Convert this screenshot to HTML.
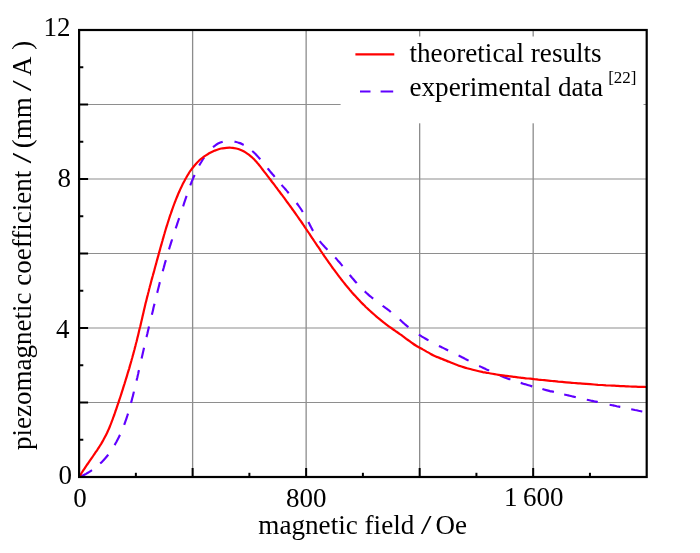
<!DOCTYPE html>
<html><head><meta charset="utf-8"><title>piezomagnetic coefficient vs magnetic field</title>
<style>html,body{margin:0;padding:0;background:#fff;overflow:hidden}svg{display:block}text{font-family:"Liberation Serif","Times New Roman",serif;fill:#000}</style></head><body>
<svg width="700" height="553" viewBox="0 0 700 553">
<rect x="0" y="0" width="700" height="553" fill="#fff"/>
<g stroke="#8c8c8c" stroke-width="1.3" fill="none">
<line x1="192.62" y1="30.00" x2="192.62" y2="477.00"/>
<line x1="306.14" y1="30.00" x2="306.14" y2="477.00"/>
<line x1="419.66" y1="30.00" x2="419.66" y2="477.00"/>
<line x1="533.18" y1="30.00" x2="533.18" y2="477.00"/>
</g>
<g stroke="#8e8e8e" stroke-width="1.15" fill="none">
<line x1="79.10" y1="402.50" x2="646.70" y2="402.50"/>
<line x1="79.10" y1="328.00" x2="646.70" y2="328.00"/>
<line x1="79.10" y1="253.50" x2="646.70" y2="253.50"/>
<line x1="79.10" y1="179.00" x2="646.70" y2="179.00"/>
<line x1="79.10" y1="104.50" x2="646.70" y2="104.50"/>
</g>
<rect x="340.6" y="36.5" width="302.9" height="86.8" fill="#fff"/>
<path d="M79.6 476.9C80.2 476.7 81.8 476.0 82.8 475.5C83.9 475.0 84.9 474.4 86.0 473.9C87.0 473.3 88.0 472.7 89.0 472.1C90.0 471.5 91.5 470.5 92.0 470.2M100.2 463.6C100.7 463.1 102.1 461.7 103.0 460.8C104.0 459.8 104.8 458.8 105.7 457.8C106.6 456.8 107.8 455.2 108.2 454.7M114.6 445.1C114.9 444.6 115.9 442.9 116.5 441.8C117.1 440.6 117.7 439.5 118.3 438.3C118.9 437.2 119.7 435.4 120.0 434.9M124.2 424.9C124.4 424.3 125.1 422.4 125.5 421.2C126.0 419.9 126.4 418.7 126.8 417.4C127.2 416.2 127.8 414.3 128.0 413.7M131.0 402.9C131.2 402.3 131.7 400.4 132.0 399.2C132.3 397.9 132.7 396.6 133.0 395.4C133.3 394.1 133.8 392.2 133.9 391.6M136.5 380.7C136.7 380.1 137.1 378.3 137.4 377.2C137.6 376.0 137.9 374.8 138.2 373.7C138.4 372.5 138.8 370.8 139.0 370.2M141.6 358.5C141.7 357.9 142.1 356.1 142.4 354.9C142.7 353.7 142.9 352.6 143.2 351.4C143.5 350.2 143.9 348.4 144.0 347.8M146.5 337.1C146.7 336.5 147.1 334.7 147.4 333.5C147.6 332.4 147.9 331.2 148.2 330.0C148.5 328.8 148.9 327.1 149.0 326.5M151.9 314.7C152.0 314.1 152.5 312.2 152.8 311.0C153.1 309.8 153.3 308.6 153.6 307.3C153.9 306.1 154.4 304.3 154.5 303.7M157.2 292.8C157.4 292.2 157.8 290.4 158.1 289.2C158.4 288.1 158.7 286.9 159.0 285.7C159.3 284.6 159.7 282.8 159.9 282.2M162.8 271.3C162.9 270.7 163.4 268.8 163.8 267.5C164.1 266.3 164.5 265.0 164.8 263.8C165.1 262.5 165.7 260.7 165.9 260.1M169.0 249.3C169.2 248.8 169.7 247.1 170.0 246.0C170.4 244.9 170.7 243.8 171.1 242.7C171.4 241.6 172.0 239.9 172.1 239.4M175.7 228.4C175.9 227.8 176.5 226.1 176.9 224.9C177.2 223.8 177.6 222.7 178.0 221.5C178.4 220.4 179.0 218.6 179.2 218.1M183.1 206.4C183.3 205.8 183.8 204.1 184.2 202.9C184.6 201.7 185.0 200.6 185.4 199.4C185.8 198.2 186.4 196.5 186.6 195.9M190.3 185.4C190.5 184.8 191.2 183.1 191.6 181.9C192.1 180.7 192.6 179.5 193.1 178.4C193.6 177.2 194.3 175.5 194.6 174.9M199.2 165.5C199.6 164.9 200.8 162.8 201.6 161.5C202.4 160.1 203.7 158.2 204.2 157.5M213.0 147.1C213.5 146.7 215.0 145.5 216.0 144.8C217.0 144.2 218.1 143.5 219.2 143.0C220.3 142.5 222.1 142.0 222.7 141.8M234.5 141.6C235.3 141.8 237.7 142.3 239.2 142.9C240.8 143.4 243.0 144.6 243.7 144.9M252.2 151.0C252.7 151.4 254.1 152.7 255.0 153.6C255.9 154.5 256.8 155.5 257.7 156.4C258.5 157.4 259.8 158.8 260.2 159.3M267.6 168.3C268.0 168.8 269.2 170.2 270.0 171.2C270.8 172.1 271.5 173.0 272.3 174.0C273.1 174.9 274.3 176.3 274.7 176.8M281.6 184.8C282.0 185.3 283.2 186.7 284.0 187.6C284.8 188.5 285.6 189.5 286.4 190.4C287.2 191.3 288.3 192.8 288.7 193.2M296.6 203.0C297.0 203.5 298.1 205.0 298.8 206.0C299.5 207.0 300.2 208.0 300.9 209.0C301.5 210.0 302.5 211.5 302.8 212.0M308.4 222.0C308.6 222.5 309.4 223.9 309.9 224.9C310.4 225.9 311.0 226.9 311.5 227.9C312.0 228.9 312.8 230.4 313.1 230.9M319.7 241.1C320.1 241.6 321.3 243.1 322.2 244.1C323.0 245.1 323.9 246.0 324.8 247.0C325.7 247.9 327.0 249.3 327.5 249.8M335.2 257.6C335.6 258.0 336.9 259.4 337.7 260.4C338.6 261.3 339.4 262.3 340.2 263.2C341.0 264.2 342.2 265.7 342.6 266.1M349.7 274.9C350.1 275.4 351.3 276.8 352.0 277.7C352.8 278.6 353.6 279.5 354.4 280.5C355.1 281.4 356.3 282.7 356.7 283.2M364.7 291.4C365.2 291.8 366.5 293.1 367.5 293.9C368.4 294.7 369.3 295.5 370.3 296.3C371.2 297.1 372.7 298.3 373.2 298.7M382.7 305.7C383.1 306.1 384.5 307.1 385.5 307.8C386.4 308.4 387.3 309.1 388.2 309.8C389.1 310.6 390.5 311.6 390.9 312.0M399.7 319.6C400.1 320.0 401.6 321.3 402.5 322.1C403.5 323.0 404.5 323.8 405.4 324.7C406.4 325.5 407.9 326.7 408.4 327.1M418.8 334.6C419.3 334.9 420.9 335.9 422.0 336.6C423.0 337.2 424.1 337.9 425.2 338.5C426.3 339.2 427.9 340.1 428.5 340.4M438.9 345.9C439.4 346.1 440.9 346.9 442.0 347.4C443.0 347.9 444.0 348.4 445.0 348.9C446.1 349.5 447.6 350.2 448.1 350.5M458.6 355.6C459.1 355.8 460.8 356.7 461.9 357.2C463.0 357.8 464.1 358.3 465.2 358.9C466.4 359.5 468.0 360.3 468.6 360.6M479.1 365.9C479.6 366.1 481.3 367.0 482.4 367.5C483.5 368.1 484.6 368.6 485.8 369.1C486.9 369.7 488.6 370.4 489.1 370.7M500.0 375.5C500.6 375.7 502.3 376.4 503.5 376.9C504.6 377.4 505.8 377.8 506.9 378.2C508.1 378.7 509.8 379.3 510.4 379.5M520.7 382.9C521.4 383.1 523.3 383.7 524.6 384.1C525.8 384.5 527.1 384.9 528.4 385.3C529.7 385.7 531.6 386.2 532.3 386.4M542.4 389.1C543.0 389.3 544.9 389.8 546.2 390.1C547.5 390.4 548.7 390.7 550.0 391.1C551.3 391.4 553.2 391.8 553.9 392.0M564.2 394.5C564.9 394.6 566.8 395.1 568.1 395.4C569.3 395.7 570.6 396.0 571.9 396.3C573.2 396.6 575.1 397.0 575.8 397.2M586.8 399.7C587.4 399.8 589.2 400.2 590.4 400.5C591.6 400.8 592.8 401.0 594.0 401.3C595.3 401.6 597.1 401.9 597.7 402.1M609.6 404.7C610.2 404.8 612.0 405.2 613.2 405.4C614.4 405.7 615.6 405.9 616.7 406.2C617.9 406.4 619.7 406.8 620.3 406.9M631.2 409.2C631.8 409.3 633.6 409.7 634.9 410.0C636.1 410.2 637.4 410.5 638.6 410.8C639.8 411.0 641.7 411.4 642.3 411.5" fill="none" stroke="#6000ff" stroke-width="2.15"/>
<path d="M79.3 477.0C79.6 476.4 80.6 474.7 81.3 473.5C82.0 472.4 82.7 471.3 83.4 470.2C84.2 469.0 84.9 467.9 85.6 466.8C86.4 465.7 87.1 464.6 87.9 463.5C88.7 462.4 89.4 461.3 90.2 460.2C90.9 459.1 91.7 458.0 92.5 456.9C93.2 455.8 94.0 454.7 94.7 453.6C95.5 452.5 96.2 451.4 97.0 450.3C97.7 449.2 98.4 448.1 99.2 447.0C99.9 445.9 100.6 444.7 101.3 443.6C102.0 442.4 102.6 441.3 103.3 440.1C103.9 439.0 104.6 437.8 105.2 436.6C105.8 435.4 106.4 434.2 107.0 433.0C107.5 431.8 108.1 430.6 108.6 429.4C109.2 428.2 109.7 426.9 110.2 425.7C110.7 424.5 111.2 423.2 111.6 422.0C112.1 420.7 112.6 419.5 113.0 418.2C113.5 417.0 113.9 415.7 114.4 414.5C114.8 413.2 115.3 411.9 115.7 410.7C116.1 409.4 116.6 408.2 117.0 406.9C117.4 405.6 117.8 404.4 118.3 403.1C118.7 401.8 119.1 400.6 119.5 399.3C120.0 398.0 120.4 396.8 120.8 395.5C121.2 394.2 121.6 393.0 122.0 391.7C122.4 390.4 122.8 389.2 123.2 387.9C123.6 386.6 124.0 385.3 124.4 384.1C124.8 382.8 125.2 381.5 125.6 380.2C126.0 379.0 126.4 377.7 126.8 376.4C127.2 375.1 127.6 373.9 127.9 372.6C128.3 371.3 128.7 370.0 129.1 368.8C129.5 367.5 129.8 366.2 130.2 364.9C130.6 363.6 130.9 362.3 131.3 361.1C131.6 359.8 132.0 358.5 132.4 357.2C132.7 355.9 133.1 354.6 133.4 353.4C133.8 352.1 134.1 350.8 134.5 349.5C134.8 348.2 135.1 346.9 135.5 345.6C135.8 344.3 136.1 343.0 136.5 341.7C136.8 340.5 137.1 339.2 137.4 337.9C137.8 336.6 138.1 335.3 138.4 334.0C138.7 332.7 139.0 331.4 139.3 330.1C139.6 328.8 139.9 327.5 140.3 326.2C140.6 324.9 140.9 323.6 141.2 322.3C141.5 321.0 141.8 319.7 142.1 318.4C142.4 317.1 142.7 315.8 143.0 314.5C143.3 313.2 143.6 311.9 143.9 310.6C144.2 309.3 144.5 308.0 144.8 306.7C145.1 305.4 145.4 304.1 145.7 302.8C146.1 301.5 146.4 300.2 146.7 298.9C147.0 297.6 147.3 296.4 147.7 295.1C148.0 293.8 148.3 292.5 148.7 291.2C149.0 289.9 149.3 288.6 149.7 287.3C150.0 286.0 150.4 284.7 150.7 283.5C151.1 282.2 151.4 280.9 151.7 279.6C152.1 278.3 152.4 277.0 152.8 275.7C153.1 274.4 153.5 273.2 153.9 271.9C154.2 270.6 154.6 269.3 154.9 268.0C155.3 266.7 155.6 265.4 156.0 264.2C156.3 262.9 156.7 261.6 157.0 260.3C157.4 259.0 157.7 257.7 158.1 256.4C158.4 255.2 158.8 253.9 159.1 252.6C159.5 251.3 159.9 250.0 160.2 248.7C160.6 247.4 160.9 246.2 161.3 244.9C161.6 243.6 162.0 242.3 162.4 241.0C162.7 239.7 163.1 238.4 163.5 237.2C163.8 235.9 164.2 234.6 164.6 233.3C164.9 232.0 165.3 230.8 165.7 229.5C166.1 228.2 166.5 226.9 166.9 225.7C167.3 224.4 167.7 223.1 168.1 221.8C168.5 220.6 168.9 219.3 169.3 218.0C169.7 216.8 170.1 215.5 170.6 214.2C171.0 213.0 171.4 211.7 171.9 210.5C172.3 209.2 172.8 208.0 173.2 206.7C173.7 205.4 174.2 204.2 174.6 203.0C175.1 201.7 175.6 200.5 176.1 199.2C176.6 198.0 177.1 196.8 177.6 195.5C178.1 194.3 178.6 193.1 179.2 191.8C179.7 190.6 180.3 189.4 180.8 188.2C181.4 187.0 182.0 185.8 182.5 184.6C183.1 183.4 183.7 182.2 184.4 181.0C185.0 179.8 185.6 178.7 186.3 177.5C186.9 176.4 187.6 175.2 188.3 174.1C189.0 172.9 189.7 171.8 190.5 170.7C191.3 169.6 192.0 168.5 192.9 167.5C193.7 166.4 194.5 165.4 195.4 164.4C196.3 163.4 197.2 162.4 198.2 161.5C199.1 160.6 200.1 159.7 201.1 158.8C202.2 158.0 203.2 157.2 204.3 156.4C205.4 155.6 206.5 154.9 207.7 154.2C208.8 153.5 210.0 152.9 211.2 152.3C212.4 151.7 213.6 151.1 214.8 150.6C216.1 150.1 217.3 149.7 218.6 149.3C219.9 148.9 221.2 148.6 222.5 148.3C223.8 148.1 225.1 147.9 226.4 147.8C227.8 147.7 229.1 147.6 230.4 147.7C231.8 147.7 233.1 147.8 234.4 148.1C235.7 148.3 237.0 148.6 238.3 149.0C239.5 149.4 240.8 149.9 242.0 150.5C243.2 151.1 244.4 151.7 245.5 152.4C246.6 153.1 247.7 153.9 248.8 154.7C249.9 155.5 250.9 156.4 251.9 157.2C252.9 158.1 253.8 159.1 254.7 160.0C255.7 161.0 256.6 162.0 257.4 163.0C258.3 164.0 259.1 165.1 260.0 166.1C260.8 167.1 261.6 168.2 262.4 169.3C263.2 170.3 264.0 171.4 264.8 172.4C265.7 173.5 266.5 174.5 267.3 175.6C268.1 176.7 268.9 177.7 269.7 178.8C270.5 179.8 271.3 180.9 272.1 182.0C272.9 183.0 273.8 184.1 274.6 185.1C275.4 186.2 276.2 187.3 277.0 188.3C277.8 189.4 278.6 190.5 279.4 191.5C280.2 192.6 281.0 193.7 281.8 194.7C282.6 195.8 283.4 196.9 284.2 197.9C285.0 199.0 285.8 200.1 286.5 201.2C287.3 202.2 288.1 203.3 288.9 204.4C289.7 205.5 290.5 206.5 291.3 207.6C292.0 208.7 292.8 209.8 293.6 210.9C294.4 212.0 295.1 213.0 295.9 214.1C296.7 215.2 297.4 216.3 298.2 217.4C299.0 218.5 299.7 219.6 300.5 220.7C301.2 221.8 302.0 222.9 302.8 224.0C303.5 225.1 304.3 226.2 305.0 227.3C305.8 228.4 306.5 229.5 307.2 230.6C308.0 231.7 308.7 232.8 309.5 233.9C310.2 235.1 311.0 236.2 311.7 237.3C312.4 238.4 313.2 239.5 313.9 240.6C314.7 241.7 315.4 242.8 316.1 243.9C316.9 245.0 317.6 246.1 318.4 247.2C319.1 248.3 319.9 249.4 320.6 250.6C321.4 251.7 322.1 252.8 322.9 253.9C323.6 255.0 324.4 256.1 325.1 257.2C325.9 258.3 326.6 259.4 327.4 260.4C328.2 261.5 328.9 262.6 329.7 263.7C330.5 264.8 331.3 265.9 332.0 267.0C332.8 268.1 333.6 269.1 334.4 270.2C335.2 271.3 336.0 272.4 336.8 273.4C337.6 274.5 338.4 275.6 339.2 276.6C340.0 277.7 340.8 278.7 341.6 279.8C342.4 280.8 343.3 281.9 344.1 282.9C344.9 284.0 345.8 285.0 346.6 286.0C347.5 287.1 348.3 288.1 349.2 289.1C350.0 290.1 350.9 291.1 351.8 292.2C352.7 293.2 353.5 294.2 354.4 295.1C355.3 296.1 356.2 297.1 357.1 298.1C358.0 299.1 359.0 300.0 359.9 301.0C360.8 302.0 361.7 302.9 362.7 303.9C363.6 304.8 364.6 305.7 365.5 306.7C366.5 307.6 367.5 308.5 368.4 309.4C369.4 310.3 370.4 311.2 371.4 312.1C372.4 313.0 373.4 313.9 374.4 314.8C375.4 315.7 376.4 316.5 377.4 317.4C378.4 318.2 379.5 319.1 380.5 319.9C381.5 320.8 382.6 321.6 383.6 322.4C384.7 323.2 385.7 324.0 386.8 324.8C387.9 325.6 389.0 326.4 390.0 327.2C391.1 328.0 392.2 328.8 393.3 329.5C394.4 330.3 395.5 331.0 396.6 331.8C397.7 332.5 398.8 333.3 399.9 334.1C401.0 334.8 402.1 335.6 403.1 336.4C404.2 337.2 405.3 338.0 406.3 338.8C407.4 339.6 408.5 340.4 409.6 341.2C410.6 342.0 411.7 342.8 412.8 343.5C413.9 344.3 415.0 345.0 416.2 345.7C417.3 346.4 418.5 347.0 419.6 347.7C420.8 348.3 422.0 348.9 423.2 349.6C424.3 350.2 425.5 350.9 426.6 351.6C427.8 352.3 428.9 353.0 430.1 353.6C431.2 354.2 432.4 354.9 433.6 355.4C434.8 356.0 436.0 356.6 437.3 357.1C438.5 357.6 439.7 358.1 441.0 358.6C442.2 359.1 443.4 359.6 444.7 360.1C445.9 360.6 447.1 361.1 448.4 361.6C449.6 362.1 450.9 362.6 452.1 363.1C453.3 363.6 454.6 364.1 455.8 364.5C457.1 365.0 458.3 365.4 459.6 365.9C460.9 366.3 462.1 366.7 463.4 367.1C464.7 367.5 466.0 367.9 467.2 368.3C468.5 368.6 469.8 369.0 471.1 369.3C472.4 369.7 473.7 370.0 475.0 370.3C476.3 370.6 477.6 370.9 478.9 371.2C480.2 371.5 481.5 371.8 482.8 372.1C484.1 372.3 485.4 372.6 486.7 372.8C488.0 373.1 489.3 373.3 490.6 373.5C492.0 373.8 493.3 374.0 494.6 374.2C495.9 374.4 497.2 374.6 498.5 374.8C499.9 375.0 501.2 375.2 502.5 375.4C503.8 375.6 505.1 375.7 506.5 375.9C507.8 376.1 509.1 376.2 510.4 376.4C511.8 376.6 513.1 376.7 514.4 376.9C515.7 377.1 517.1 377.2 518.4 377.4C519.7 377.5 521.0 377.7 522.4 377.8C523.7 378.0 525.0 378.1 526.3 378.3C527.7 378.4 529.0 378.6 530.3 378.7C531.6 378.9 533.0 379.0 534.3 379.2C535.6 379.3 536.9 379.4 538.3 379.6C539.6 379.7 540.9 379.9 542.2 380.0C543.6 380.1 544.9 380.3 546.2 380.4C547.6 380.5 548.9 380.7 550.2 380.8C551.5 380.9 552.9 381.1 554.2 381.2C555.5 381.3 556.8 381.4 558.2 381.6C559.5 381.7 560.8 381.8 562.2 381.9C563.5 382.1 564.8 382.2 566.1 382.3C567.5 382.4 568.8 382.5 570.1 382.6C571.5 382.8 572.8 382.9 574.1 383.0C575.4 383.1 576.8 383.2 578.1 383.3C579.4 383.4 580.8 383.5 582.1 383.6C583.4 383.7 584.7 383.8 586.1 383.9C587.4 384.0 588.7 384.1 590.1 384.2C591.4 384.3 592.7 384.4 594.1 384.5C595.4 384.6 596.7 384.7 598.0 384.8C599.4 384.8 600.7 384.9 602.0 385.0C603.4 385.1 604.7 385.2 606.0 385.3C607.4 385.3 608.7 385.4 610.0 385.5C611.4 385.6 612.7 385.6 614.0 385.7C615.4 385.8 616.7 385.9 618.0 385.9C619.3 386.0 620.7 386.1 622.0 386.1C623.3 386.2 624.7 386.2 626.0 386.3C627.3 386.4 628.7 386.4 630.0 386.5C631.3 386.5 632.7 386.6 634.0 386.6C635.3 386.7 636.7 386.7 638.0 386.8C639.3 386.8 640.7 386.8 642.0 386.9C643.3 386.9 645.3 387.0 646.0 387.0" fill="none" stroke="#ff0000" stroke-width="2.2" stroke-linejoin="round"/>
<g stroke="#000" stroke-width="2" fill="none">
<line x1="135.86" y1="477.00" x2="135.86" y2="472.80"/>
<line x1="192.62" y1="477.00" x2="192.62" y2="468.00"/>
<line x1="249.38" y1="477.00" x2="249.38" y2="472.80"/>
<line x1="306.14" y1="477.00" x2="306.14" y2="468.00"/>
<line x1="362.90" y1="477.00" x2="362.90" y2="472.80"/>
<line x1="419.66" y1="477.00" x2="419.66" y2="468.00"/>
<line x1="476.42" y1="477.00" x2="476.42" y2="472.80"/>
<line x1="533.18" y1="477.00" x2="533.18" y2="468.00"/>
<line x1="589.94" y1="477.00" x2="589.94" y2="472.80"/>
<line x1="79.10" y1="439.75" x2="83.30" y2="439.75"/>
<line x1="79.10" y1="402.50" x2="88.10" y2="402.50"/>
<line x1="79.10" y1="365.25" x2="83.30" y2="365.25"/>
<line x1="79.10" y1="328.00" x2="88.10" y2="328.00"/>
<line x1="79.10" y1="290.75" x2="83.30" y2="290.75"/>
<line x1="79.10" y1="253.50" x2="88.10" y2="253.50"/>
<line x1="79.10" y1="216.25" x2="83.30" y2="216.25"/>
<line x1="79.10" y1="179.00" x2="88.10" y2="179.00"/>
<line x1="79.10" y1="141.75" x2="83.30" y2="141.75"/>
<line x1="79.10" y1="104.50" x2="88.10" y2="104.50"/>
<line x1="79.10" y1="67.25" x2="83.30" y2="67.25"/>
</g>
<rect x="79.10" y="30.00" width="567.60" height="447.00" fill="none" stroke="#000" stroke-width="2.2"/>
<line x1="355.4" y1="54.3" x2="394.3" y2="54.3" stroke="#ff0000" stroke-width="2.2"/>
<path d="M360 91.45H370.5M380.6 91.45H393.2" stroke="#6000ff" stroke-width="2.15" fill="none"/>
<text x="409.5" y="61.9" font-size="27.15">theoretical results</text>
<text x="409.5" y="95.6" font-size="27.15">experimental data<tspan dx="5" dy="-12.6" font-size="17">[22]</tspan></text>
<text transform="translate(70.4 36.2) scale(1 1.03)" font-size="27" text-anchor="end">12</text>
<text transform="translate(71.1 186.6) scale(1 1.03)" font-size="27" text-anchor="end">8</text>
<text transform="translate(69.6 337.6) scale(1 1.03)" font-size="27" text-anchor="end">4</text>
<text transform="translate(72.0 483.6) scale(1 1.03)" font-size="27" text-anchor="end">0</text>
<text transform="translate(80.1 506.8) scale(1 1.05)" font-size="27" text-anchor="middle">0</text>
<text transform="translate(306.14 507.3) scale(1 1.05)" font-size="27" text-anchor="middle">800</text>
<text transform="translate(533.78 506.3) scale(1 1.05)" font-size="27" text-anchor="middle">1 600</text>
<text transform="translate(258.3 533.6)" font-size="27.15" text-anchor="start">magnetic field</text>
<text transform="translate(426.2 533.6) scale(1.44 1.04)" font-size="27" text-anchor="middle">/</text>
<text transform="translate(435.4 533.6)" font-size="27" text-anchor="start">Oe</text>
<text transform="translate(31.4 449.95) rotate(-90)" font-size="27" text-anchor="start">piezomagnetic coefficient</text>
<text transform="translate(31.4 158.25) rotate(-90) scale(1.42 1.04)" font-size="27" text-anchor="middle">/</text>
<text transform="translate(31.4 148.2) rotate(-90)" font-size="27" text-anchor="start">(mm</text>
<text transform="translate(31.4 85.75) rotate(-90) scale(1.48 1.04)" font-size="27" text-anchor="middle">/</text>
<text transform="translate(31.4 75.9) rotate(-90)" font-size="27" text-anchor="start">A</text>
<text transform="translate(31.4 49.8) rotate(-90)" font-size="27" text-anchor="start">)</text>
</svg></body></html>
